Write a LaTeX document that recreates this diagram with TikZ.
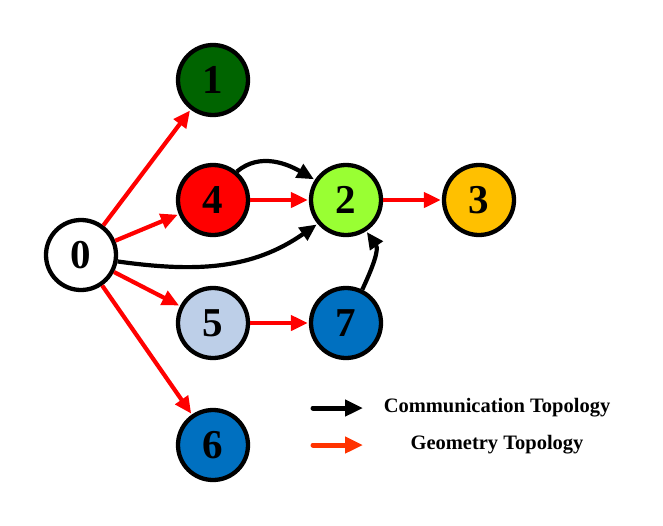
\documentclass[tikz,border=0pt]{standalone}
\usepackage{fontspec}
\setmainfont{Liberation Serif}
\usetikzlibrary{arrows.meta}
\definecolor{cgreen}{RGB}{0,100,0}
\definecolor{clime}{RGB}{153,255,51}
\definecolor{camber}{RGB}{255,192,0}
\definecolor{cpale}{RGB}{189,207,232}
\definecolor{cblue}{RGB}{0,112,192}
\definecolor{lgred}{RGB}{255,51,0}
\tikzset{
  vnode/.style={circle,draw=black,line width=4.3pt,minimum size=70pt,inner sep=0pt,
    font=\fontsize{41}{41}\selectfont\bfseries},
  geo/.style={draw=red,line width=4.2pt,-{Triangle[length=17pt,width=15pt]},shorten >=1pt},
  com/.style={draw=black,line width=4.2pt,-{Triangle[length=17pt,width=15pt]},shorten >=1pt},
  legtext/.style={font=\fontsize{20.5}{20.5}\selectfont\bfseries}
}
\begin{document}
\begin{tikzpicture}[x=1pt,y=-1pt]
\useasboundingbox (0,0) rectangle (663,525);
\node[vnode,fill=white] (n0) at (81,255) {0};
\node[vnode,fill=cgreen] (n1) at (213,80) {1};
\node[vnode,fill=red] (n4) at (213,200) {4};
\node[vnode,fill=clime] (n2) at (346,200) {2};
\node[vnode,fill=camber] (n3) at (479,200) {3};
\node[vnode,fill=cpale] (n5) at (213,323) {5};
\node[vnode,fill=cblue] (n7) at (346,323) {7};
\node[vnode,fill=cblue] (n6) at (213,445) {6};
% geometry topology
\draw[geo] (n0) -- (n1);
\draw[geo] (n0) -- (n4);
\draw[geo] (n0) -- (n5);
\draw[geo] (n0) -- (n6);
\draw[geo] (n4) -- (n2);
\draw[geo] (n2) -- (n3);
\draw[geo] (n5) -- (n7);
% communication topology
\draw[com] (n4.50) to[out=40,in=150] (n2.147);
\draw[com] (n0.-10) to[out=-8,in=215] (n2.220);
\draw[com] (n7.64) to[out=65,in=-55] (n2.-57);
% legend
\coordinate (la1) at (313,408);
\coordinate (la2) at (363,408);
\coordinate (lb1) at (313,445);
\coordinate (lb2) at (363,445);
\draw[line width=5pt,line cap=round,-{Triangle[length=18pt,width=16pt]}] (la1) -- (la2);
\draw[lgred,line width=5pt,line cap=round,-{Triangle[length=18pt,width=16pt]}] (lb1) -- (lb2);
\node[legtext] (t1) at (497,408) {Communication Topology};
\node[legtext] (t2) at (497,445) {Geometry Topology};
\end{tikzpicture}
\end{document}
